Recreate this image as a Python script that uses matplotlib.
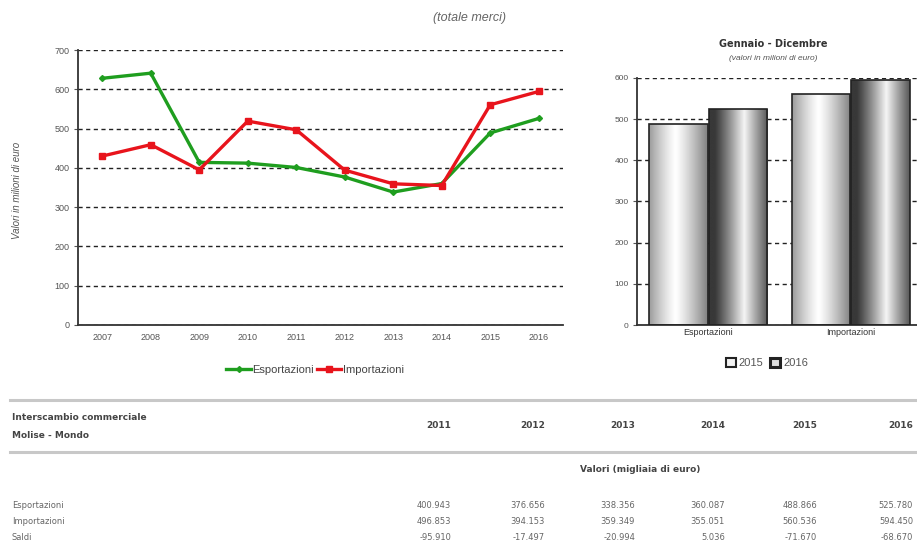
import numpy as np
import matplotlib
matplotlib.use("Agg")
import matplotlib.pyplot as plt
from matplotlib.lines import Line2D
from matplotlib.patches import Patch

# serie storica (milioni di euro)
anni = ["2007", "2008", "2009", "2010", "2011", "2012", "2013", "2014", "2015", "2016"]
esportazioni = [628, 641, 414, 412, 400.943, 376.656, 338.356, 360.087, 488.866, 525.780]
importazioni = [430, 459, 395, 519, 496.853, 394.153, 359.349, 355.051, 560.536, 594.450]

# confronto gennaio - dicembre
categorie = ["Esportazioni", "Importazioni"]
val_2015 = [488.866, 560.536]
val_2016 = [525.780, 594.450]

# tabella (migliaia di euro)
anni_tab = ["2011", "2012", "2013", "2014", "2015", "2016"]
righe_tab = ["Esportazioni", "Importazioni", "Saldi"]
esp_tab = ["400.943", "376.656", "338.356", "360.087", "488.866", "525.780"]
imp_tab = ["496.853", "394.153", "359.349", "355.051", "560.536", "594.450"]
saldi_tab = ["-95.910", "-17.497", "-20.994", "5.036", "-71.670", "-68.670"]

W, H = 917, 544
fig = plt.figure(figsize=(W / 100, H / 100), dpi=100)
fig.patch.set_facecolor("white")


def fx(px):
    return px / W


def fy(py):
    return 1 - py / H


sans = "Liberation Sans"
grey = "#555555"

fig.text(fx(470), fy(18), "(totale merci)", ha="center", va="center",
         fontsize=9, style="italic", color="#666666", family=sans)

# ---- line chart
ax = fig.add_axes([fx(78), fy(325), fx(563 - 78), (325 - 50) / H])
x = np.arange(len(anni))
ax.plot(x, esportazioni, color="#1f9e1f", lw=2.4, marker="D", ms=3,
        label="Esportazioni", zorder=3)
ax.plot(x, importazioni, color="#e8141c", lw=2.4, marker="s", ms=5,
        label="Importazioni", zorder=4)
ax.set_xlim(-0.5, 9.5)
ax.set_ylim(0, 700)
ax.set_yticks(range(0, 701, 100))
ax.set_xticks(x)
ax.set_xticklabels(anni)
ax.yaxis.grid(True, ls=(0, (3, 2.5)), color="#222222", lw=1)
ax.set_axisbelow(True)
for s in ["top", "right"]:
    ax.spines[s].set_visible(False)
for s in ["left", "bottom"]:
    ax.spines[s].set_color("#333333")
    ax.spines[s].set_linewidth(1.3)
ax.tick_params(axis="both", labelsize=6.5, colors=grey, length=0, pad=6)
ax.tick_params(axis="y", length=3, pad=3)
for t in ax.get_xticklabels() + ax.get_yticklabels():
    t.set_family(sans)
fig.text(fx(17), fy(190), "Valori in milioni di euro", rotation=90,
         ha="center", va="center", fontsize=7, style="italic", color=grey, family=sans)
leg = ax.legend(loc="center", bbox_to_anchor=(fx(315), fy(370)),
                bbox_transform=fig.transFigure, ncol=2, frameon=False,
                handlelength=2.2, columnspacing=0.3, handletextpad=0.1,
                prop={"family": sans, "size": 8})
for t in leg.get_texts():
    t.set_color("#444444")

# ---- bar chart
bx = fig.add_axes([fx(637), fy(325), fx(922 - 637), (325 - 78) / H])
xc = np.arange(len(categorie))
bw = 0.41
b15 = bx.bar(xc - bw / 2 - 0.005, val_2015, width=bw, color="none",
             edgecolor="#222222", lw=1.2, zorder=3)
b16 = bx.bar(xc + bw / 2 + 0.005, val_2016, width=bw, color="none",
             edgecolor="#222222", lw=1.2, zorder=3)

g = np.linspace(0, 1, 256)
light = 1 - 0.5 * (np.abs(g - 0.45) / 0.55) ** 1.2
dark = 0.22 + 0.74 * np.clip(1 - np.abs(g - 0.6) / 0.5, 0, 1) ** 1.1
for bars, prof in [(b15, light), (b16, dark)]:
    for p in bars:
        x0, w, h = p.get_x(), p.get_width(), p.get_height()
        img = bx.imshow(prof[np.newaxis, :], cmap="gray", vmin=0, vmax=1,
                        extent=[x0, x0 + w, 0, h], aspect="auto", zorder=2.5,
                        interpolation="bilinear")
        img.set_clip_path(p)

bx.set_xlim(-0.5, 1.5)
bx.set_ylim(0, 600)
bx.set_yticks(range(0, 601, 100))
bx.set_xticks(xc)
bx.set_xticklabels(categorie)
bx.yaxis.grid(True, ls=(0, (3, 2.5)), color="#222222", lw=1)
bx.set_axisbelow(True)
for s in ["top", "right"]:
    bx.spines[s].set_visible(False)
for s in ["left", "bottom"]:
    bx.spines[s].set_color("#333333")
    bx.spines[s].set_linewidth(1.3)
bx.tick_params(axis="x", labelsize=6.5, colors="#333333", length=0, pad=2)
bx.tick_params(axis="y", labelsize=6, colors=grey, length=3, pad=3)
for t in bx.get_xticklabels() + bx.get_yticklabels():
    t.set_family(sans)
fig.text(fx(773), fy(44), "Gennaio - Dicembre", ha="center", va="center",
         fontsize=7, weight="bold", color="#333333", family="DejaVu Sans")
fig.text(fx(773), fy(58), "(valori in milioni di euro)", ha="center", va="center",
         fontsize=6, style="italic", color=grey, family=sans)
bleg = bx.legend([Patch(facecolor="#f2f2f2", edgecolor="#222222", lw=1.5),
                  Patch(facecolor="#dddddd", edgecolor="#222222", lw=2.2)],
                 ["2015", "2016"], loc="center", bbox_to_anchor=(fx(767), fy(363)),
                 bbox_transform=fig.transFigure, ncol=2, frameon=False,
                 handlelength=0.9, handleheight=0.9, columnspacing=0.6,
                 handletextpad=0.3, prop={"family": sans, "size": 8})
for t in bleg.get_texts():
    t.set_color("#555555")

# ---- table
for py in [400, 452]:
    fig.add_artist(Line2D([fx(10), 1], [fy(py), fy(py)], color="#c8c8c8", lw=2.2))
tab = "DejaVu Sans"
fig.text(fx(12), fy(418), "Interscambio commerciale", ha="left", va="center",
         fontsize=6.5, weight="bold", color="#444444", family=tab)
fig.text(fx(12), fy(435), "Molise - Mondo", ha="left", va="center",
         fontsize=6.5, weight="bold", color="#444444", family=tab)
col_r = [451, 545, 635, 725, 817, 913]
for xr, a in zip(col_r, anni_tab):
    fig.text(fx(xr), fy(425), a, ha="right", va="center", fontsize=6.5,
             weight="bold", color="#444444", family=tab)
fig.text(fx(640), fy(469), "Valori (migliaia di euro)", ha="center", va="center",
         fontsize=6.5, weight="bold", color="#444444", family=tab)
for py, nome, vals in zip([505, 521, 537], righe_tab, [esp_tab, imp_tab, saldi_tab]):
    fig.text(fx(12), fy(py), nome, ha="left", va="center", fontsize=6,
             color="#666666", family=tab)
    for xr, v in zip(col_r, vals):
        fig.text(fx(xr), fy(py), v, ha="right", va="center", fontsize=6,
                 color="#666666", family=tab)

fig.savefig("out.png", dpi=100, facecolor="white")
